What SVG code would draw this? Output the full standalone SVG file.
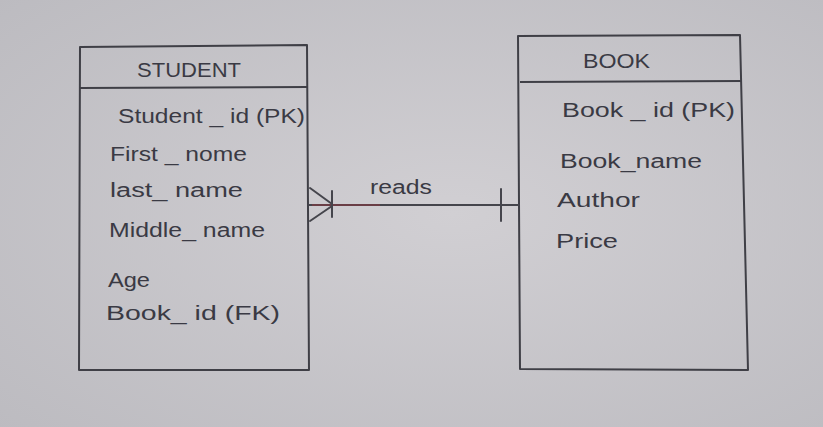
<svg xmlns="http://www.w3.org/2000/svg" width="823" height="427" viewBox="0 0 823 427">
  <defs>
    <radialGradient id="paper" cx="0.55" cy="0.5" r="0.75">
      <stop offset="0" stop-color="#d1cfd3"/>
      <stop offset="1" stop-color="#bcbbc0"/>
    </radialGradient>
    <style>
      .box { fill: none; stroke: #3f3f46; stroke-width: 2; stroke-linejoin: round; }
      .ink { fill: none; stroke: #45454c; stroke-width: 2; stroke-linecap: round; }
      text { font-family: "Liberation Sans", "DejaVu Sans", sans-serif; fill: #3a3a44; }
      .title { font-size: 21px; }
      .attr { font-size: 20px; }
    </style>
  </defs>
  <rect x="0" y="0" width="823" height="427" fill="url(#paper)"/>

  <g id="student">
    <path class="box" d="M80,47 L307,45 L309,370 L79,370 Z"/>
    <line class="box" x1="80" y1="88" x2="308" y2="87"/>
    <text class="title" x="137" y="77" textLength="104" lengthAdjust="spacingAndGlyphs">STUDENT</text>
    <text class="attr" x="118" y="123" textLength="187" lengthAdjust="spacingAndGlyphs">Student _ id (PK)</text>
    <text class="attr" x="110" y="161" textLength="137" lengthAdjust="spacingAndGlyphs">First _ nome</text>
    <text class="attr" x="110" y="197" textLength="133" lengthAdjust="spacingAndGlyphs">last_ name</text>
    <text class="attr" x="109" y="237" textLength="156" lengthAdjust="spacingAndGlyphs">Middle_ name</text>
    <text class="attr" x="108" y="287" textLength="42" lengthAdjust="spacingAndGlyphs">Age</text>
    <text class="attr" x="106" y="320" textLength="174" lengthAdjust="spacingAndGlyphs">Book_ id (FK)</text>
  </g>

  <g id="book">
    <path class="box" d="M518,36 L740,35 L748,370 L520,369 Z"/>
    <line class="box" x1="520" y1="82" x2="741" y2="81"/>
    <text class="title" x="583" y="68" textLength="67" lengthAdjust="spacingAndGlyphs">BOOK</text>
    <text class="attr" x="562" y="117" textLength="173" lengthAdjust="spacingAndGlyphs">Book _ id (PK)</text>
    <text class="attr" x="560" y="168" textLength="142" lengthAdjust="spacingAndGlyphs">Book_name</text>
    <text class="attr" x="557" y="207" textLength="83" lengthAdjust="spacingAndGlyphs">Author</text>
    <text class="attr" x="556" y="248" textLength="62" lengthAdjust="spacingAndGlyphs">Price</text>
  </g>

  <g id="connectors">
    <line class="ink" x1="309" y1="205" x2="519" y2="205"/>
    <line x1="312" y1="205" x2="380" y2="205" stroke="#6a3e46" stroke-width="2.2"/>
    <line class="ink" x1="310" y1="188" x2="332" y2="204"/>
    <line class="ink" x1="310" y1="221" x2="332" y2="206"/>
    <line class="ink" x1="332" y1="191" x2="332" y2="217"/>
    <line class="ink" x1="501" y1="189" x2="501" y2="221"/>
    <text class="attr" x="370" y="194" textLength="62" lengthAdjust="spacingAndGlyphs">reads</text>
  </g>
</svg>
